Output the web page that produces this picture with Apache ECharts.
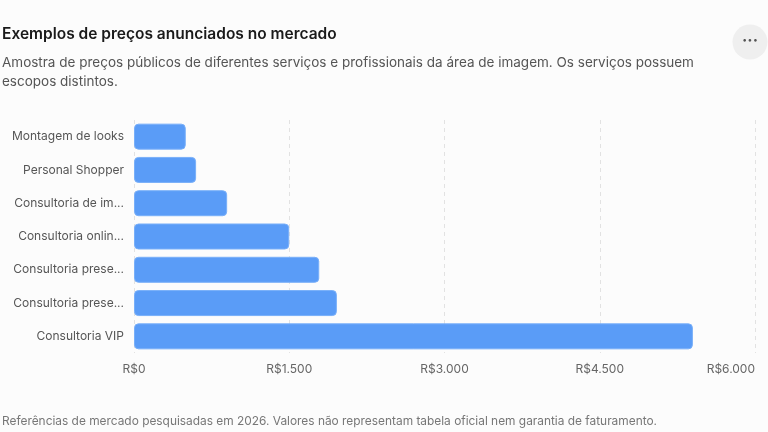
<!DOCTYPE html>
<html>
<head>
<meta charset="utf-8">
<script src="https://cdn.jsdelivr.net/npm/echarts@6/dist/echarts.min.js"></script>
<style>
html,body{margin:0;padding:0;background:#fcfcfc;}
#c{width:768px;height:432px;}
</style>
</head>
<body>
<div id="c"></div>
<script>
const categories = [
  "Montagem de looks",
  "Personal Shopper",
  "Consultoria de imagem",
  "Consultoria online",
  "Consultoria presencial",
  "Consultoria presencial completa",
  "Consultoria VIP"
];
const prices = [500, 600, 900, 1500, 1790, 1960, 5400];
const tickValues = [0, 1500, 3000, 4500, 6000];

const font = "Inter, 'Noto Sans', sans-serif";
function brl(v){
  return 'R$' + String(v).replace(/\B(?=(\d{3})+(?!\d))/g, '.');
}
function shortLabel(s){
  return s.length > 17 ? s.slice(0, 17) + '...' : s;
}
const chart = echarts.init(document.getElementById('c'), null, {renderer:'canvas'});
chart.setOption({
  backgroundColor: '#fcfcfc',
  animation: false,
  textStyle: {fontFamily: font},
  title: [
    {text: 'Exemplos de preços anunciados no mercado', left: -3, top: 21,
     textStyle: {fontSize: 15.5, fontWeight: 600, color: '#1a1a1a', fontFamily: font}},
    {text: 'Amostra de preços públicos de diferentes serviços e profissionais da área de imagem. Os serviços possuem\nescopos distintos.',
     left: -3, top: 48,
     textStyle: {fontSize: 13.5, fontWeight: 400, color: '#555', lineHeight: 19, fontFamily: font}},
    {text: 'Referências de mercado pesquisadas em 2026. Valores não representam tabela oficial nem garantia de faturamento.',
     left: -3, top: 410,
     textStyle: {fontSize: 11.9, fontWeight: 400, color: '#777', fontFamily: font}}
  ],
  graphic: [
    {type: 'circle', shape: {cx: 750, cy: 42, r: 17.5}, style: {fill: '#efefef'}},
    {type: 'text', left: 742, top: 33, style: {text: '···', fontSize: 16, fontWeight: 700, fill: '#555', fontFamily: font}}
  ],
  grid: {left: 134, right: 13, top: 120, bottom: 79, containLabel: false, outerBoundsMode: 'none'},
  xAxis: {
    type: 'value', min: tickValues[0], max: tickValues[tickValues.length-1], interval: 1500,
    axisLine: {show: false}, axisTick: {show: false},
    splitLine: {show: true, lineStyle: {color: '#e2e2e2', type: [4, 4], width: 1}},
    axisLabel: {color: '#666', fontSize: 12, margin: 10, formatter: v => brl(v), fontFamily: font,
                alignMaxLabel: 'right'}
  },
  yAxis: {
    type: 'category', data: categories, inverse: true,
    axisLine: {show: false}, axisTick: {show: false},
    axisLabel: {color: '#555', fontSize: 12, margin: 10, formatter: shortLabel, fontFamily: font}
  },
  series: [{
    type: 'bar', data: prices, barWidth: 26,
    itemStyle: {color: '#5a9cf7', borderColor: '#78aff9', borderWidth: 1, borderRadius: 4}
  }]
});
</script>
</body>
</html>
